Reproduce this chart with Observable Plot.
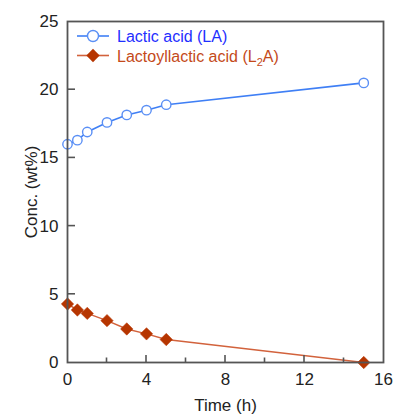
<!DOCTYPE html>
<html><head><meta charset="utf-8">
<script src="https://cdn.jsdelivr.net/npm/d3@7"></script>
<script src="https://cdn.jsdelivr.net/npm/@observablehq/plot@0.6"></script>
<style>
body{margin:0;background:#fff;}
#chart{position:relative;width:394px;height:418px;}
</style>
</head><body><div id="chart"></div>
<script>
const time = [0, 0.5, 1, 2, 3, 4, 5, 15];
const la = [16.0, 16.3, 16.9, 17.6, 18.15, 18.5, 18.9, 20.5];
const l2a = [4.29, 3.85, 3.6, 3.07, 2.46, 2.1, 1.68, 0.0];
const xMajor = [0, 4, 8, 12, 16];
const xMinor = [2, 6, 10, 14];
const yMajor = [0, 5, 10, 15, 20, 25];
const seriesNames = ["Lactic acid (LA)", "Lactoyllactic acid (L2A)"];

const laData = time.map((t, i) => ({t, v: la[i]}));
const l2aData = time.map((t, i) => ({t, v: l2a[i]}));

const blueLine = "#3f7ff5", blueMark = "#5a8ff5", blueText = "#1f2fff";
const redLine = "#d2623c", redMark = "#b63500", redText = "#c44a1a";
const axisColor = "#555";
const font = "Liberation Sans, Arial, sans-serif";

const plot = Plot.plot({
  width: 394, height: 418,
  marginLeft: 67, marginRight: 11, marginTop: 21, marginBottom: 56,
  style: {fontFamily: font, fontSize: "17px", color: "#222", background: "#fff"},
  x: {domain: [0, 16]},
  y: {domain: [0, 25]},
  marks: [
    Plot.axisX({ticks: xMajor, tickSize: 0, tickPadding: 10, fontSize: 17, label: "Time (h)", labelAnchor: "center", labelArrow: "none", labelOffset: 48}),
    Plot.axisY({ticks: yMajor, tickSize: 0, tickPadding: 9, fontSize: 17, label: "Conc. (wt%)", labelAnchor: "center", labelArrow: "none", labelOffset: 43}),
    Plot.line(laData, {x: "t", y: "v", stroke: blueLine, strokeWidth: 1.6, curve: "linear"}),
    Plot.dot(laData, {x: "t", y: "v", r: 4.7, stroke: blueMark, strokeWidth: 1.4, fill: "white"}),
    Plot.line(l2aData, {x: "t", y: "v", stroke: redLine, strokeWidth: 1.5}),
    Plot.dot(l2aData, {x: "t", y: "v", r: 5.6, symbol: "diamond2", fill: redMark, stroke: redMark, strokeWidth: 0.5}),
    Plot.frame({stroke: axisColor, strokeWidth: 1.8})
  ]
});
document.getElementById("chart").appendChild(plot);

const svg = d3.select(plot);
const xs = plot.scale("x"), ys = plot.scale("y");
const x0 = xs.apply(0), y0 = ys.apply(0);

// inward ticks drawn with the plot's own scales
const tg = svg.append("g").attr("stroke", axisColor).attr("stroke-width", 1.6);
xMajor.slice(1, -1).forEach(v => tg.append("line").attr("x1", xs.apply(v)).attr("x2", xs.apply(v)).attr("y1", y0).attr("y2", y0 - 7));
xMinor.forEach(v => tg.append("line").attr("x1", xs.apply(v)).attr("x2", xs.apply(v)).attr("y1", y0).attr("y2", y0 - 4.5));
yMajor.slice(1, -1).forEach(v => tg.append("line").attr("x1", x0).attr("x2", x0 + 8).attr("y1", ys.apply(v)).attr("y2", ys.apply(v)));

// legend inside the plot frame
const leg = svg.append("g").attr("transform", "translate(77,36)").attr("font-family", font).attr("font-size", 16).attr("text-anchor", "start");
const rows = [
  {name: seriesNames[0], line: blueLine, mark: blueMark, text: blueText, type: "circle"},
  {name: seriesNames[1], line: redLine, mark: redMark, text: redText, type: "diamond"}
];
rows.forEach((r, i) => {
  const g = leg.append("g").attr("transform", `translate(0,${i * 19.5})`);
  g.append("line").attr("x1", 0).attr("x2", 32).attr("y1", 0).attr("y2", 0).attr("stroke", r.line).attr("stroke-width", 1.6);
  if (r.type === "circle") {
    g.append("circle").attr("cx", 16).attr("cy", 0).attr("r", 5.5).attr("fill", "white").attr("stroke", r.mark).attr("stroke-width", 1.4);
  } else {
    g.append("path").attr("d", d3.symbol(d3.symbolDiamond2, 2 * 7.5 * 7.5)()).attr("transform", "translate(16,0)").attr("fill", r.mark);
  }
  const t = g.append("text").attr("x", 40).attr("y", 6).attr("fill", r.text).attr("text-anchor", "start");
  if (i === 0) t.text(r.name);
  else {
    t.append("tspan").text("Lactoyllactic acid (L");
    t.append("tspan").attr("font-size", 11).attr("dy", 4).text("2");
    t.append("tspan").attr("dy", -4).text("A)");
  }
});
</script>
</body></html>
